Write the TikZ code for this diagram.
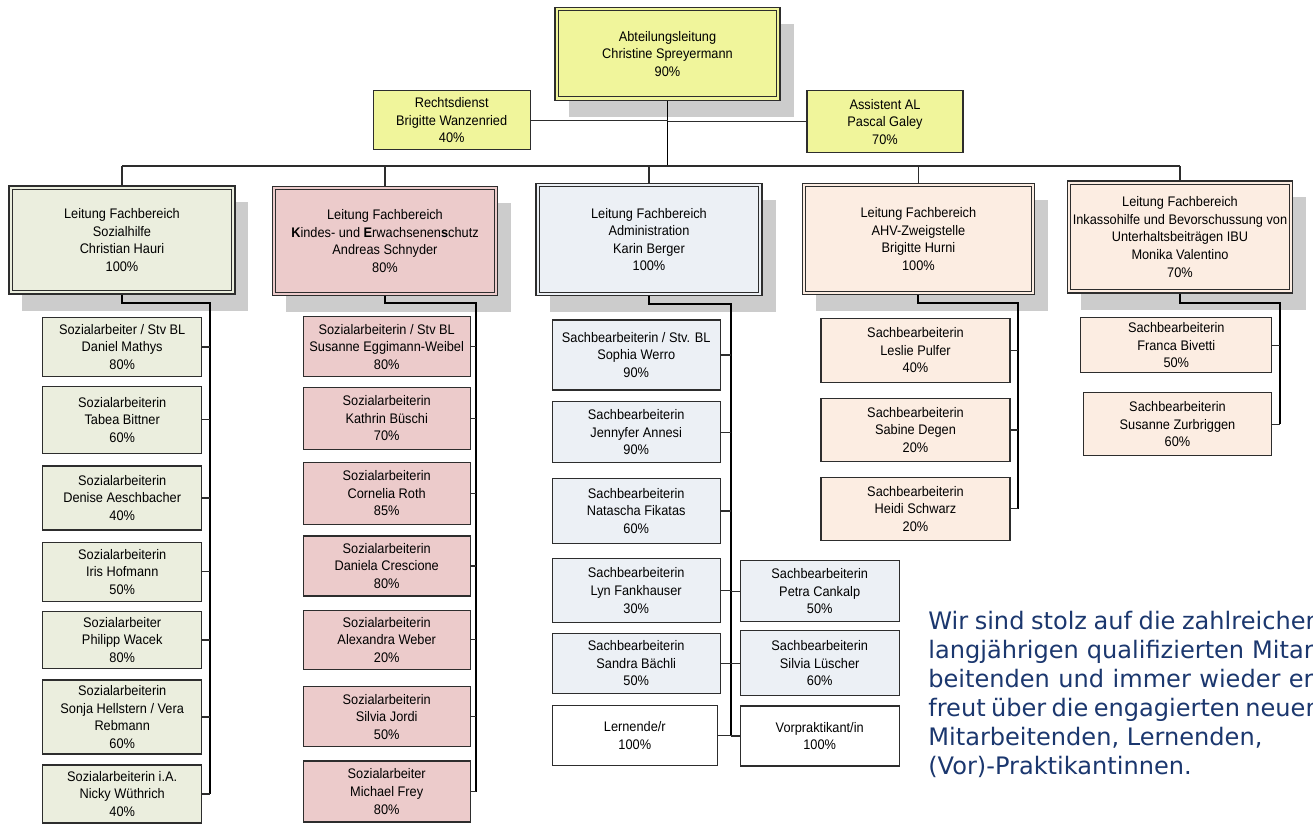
\documentclass[tikz,border=0pt]{standalone}
\usepackage{fontspec}
\setmainfont{Liberation Sans}[FakeStretch=0.92]
\newfontfamily\notefont{DejaVu Sans}
\usetikzlibrary{shadows}
\definecolor{yel}{RGB}{240,245,155}
\definecolor{grn}{RGB}{235,238,222}
\definecolor{pnk}{RGB}{236,203,203}
\definecolor{blu}{RGB}{236,240,245}
\definecolor{pch}{RGB}{252,237,226}
\definecolor{shd}{RGB}{204,204,204}
\definecolor{lin}{RGB}{45,45,45}
\definecolor{notec}{RGB}{27,55,110}
\newcommand{\jline}[1]{\makebox[7.85cm][s]{#1}}
\tikzset{
	org/.style={draw=lin, line width=0.6pt, align=center, inner sep=0pt, font=\fontsize{7.9}{10}\selectfont},
	sz/.style 2 args={minimum width=#1*0.02cm, minimum height=#2*0.02cm},
	lead/.style={org, fill=#1,
		path picture={\draw[lin, line width=0.55pt] ([shift={(1.9pt,-1.9pt)}]path picture bounding box.north west) rectangle ([shift={(-1.9pt,1.9pt)}]path picture bounding box.south east);},
		drop shadow={shadow xshift=0.27cm, shadow yshift=-0.33cm, fill=shd, opacity=1}},
	sub/.style={org, fill=#1},
	trunk/.style={line width=1.1pt, black},
	stub/.style={line width=0.6pt, lin},
	note/.style={align=left, inner sep=0pt, text=notec, font=\notefont\fontsize{13.7}{16.5}\selectfont},
}
\begin{document}
\begin{tikzpicture}[x=0.02cm, y=-0.02cm]
	\useasboundingbox (0,0) rectangle (1313,832);
	\clip (0,0) rectangle (1313,832);

	\node[lead=yel, sz={225}{93}] (al) at (667.5,53.7) {Abteilungsleitung\\Christine Spreyermann\\90\%};
	\node[sub=yel, sz={157}{59}] (rd) at (451.7,120.3) {Rechtsdienst\\Brigitte Wanzenried\\40\%};
	\node[sub=yel, sz={156}{62}] (asst) at (885,121.8) {Assistent AL\\Pascal Galey\\70\%};

	\node[lead=grn, sz={226}{108}] (soz) at (122,240) {Leitung Fachbereich\\Sozialhilfe\\Christian Hauri\\100\%};
	\node[lead=pnk, sz={225}{109}] (kes) at (385,241) {Leitung Fachbereich\\\textbf{K}indes- und \textbf{E}rwachsenen\textbf{s}chutz\\Andreas Schnyder\\80\%};
	\node[lead=blu, sz={226}{112}] (adm) at (649,239.5) {Leitung Fachbereich\\Administration\\Karin Berger\\100\%};
	\node[lead=pch, sz={232}{111}] (ahv) at (918.4,239) {Leitung Fachbereich\\AHV-Zweigstelle\\Brigitte Hurni\\100\%};
	\node[lead=pch, sz={225}{112}] (ibu) at (1180,237) {Leitung Fachbereich\\Inkassohilfe und Bevorschussung von\\Unterhaltsbeiträgen IBU\\Monika Valentino\\70\%};

	\coordinate (bl) at (122,166);
	\coordinate (br) at (1180,166);
	\draw[trunk] (al.south) -- (al.south |- bl);
	\draw[stub] (rd.east) -- (rd.east -| al.south);
	\draw[stub] (asst.west) -- (asst.west -| al.south);
	\draw[line width=0.8pt, lin] (bl) -- (br);
	\foreach \n in {soz,kes,adm,ahv,ibu}
		\draw[stub] (\n.north) -- (\n.north |- bl);

	\node[sub=grn, sz={159}{59}] (s1) at (122.2,347) {Sozialarbeiter / Stv BL\\Daniel Mathys\\80\%};
	\node[sub=grn, sz={159}{67}] (s2) at (122.2,419.7) {Sozialarbeiterin\\Tabea Bittner\\60\%};
	\node[sub=grn, sz={159}{64}] (s3) at (122.2,498) {Sozialarbeiterin\\Denise Aeschbacher\\40\%};
	\node[sub=grn, sz={159}{59}] (s4) at (122.2,571.7) {Sozialarbeiterin\\Iris Hofmann\\50\%};
	\node[sub=grn, sz={159}{57}] (s5) at (122.2,640) {Sozialarbeiter\\Philipp Wacek\\80\%};
	\node[sub=grn, sz={159}{74}] (s6) at (122.2,717) {Sozialarbeiterin\\Sonja Hellstern / Vera\\Rebmann\\60\%};
	\node[sub=grn, sz={159}{58}] (s7) at (122.2,794) {Sozialarbeiterin i.A.\\Nicky Wüthrich\\40\%};

	\node[sub=pnk, sz={167}{60}] (k1) at (386.7,346.7) {Sozialarbeiterin / Stv BL\\Susanne Eggimann-Weibel\\80\%};
	\node[sub=pnk, sz={167}{62}] (k2) at (386.7,418.3) {Sozialarbeiterin\\Kathrin Büschi\\70\%};
	\node[sub=pnk, sz={167}{62}] (k3) at (386.7,493.3) {Sozialarbeiterin\\Cornelia Roth\\85\%};
	\node[sub=pnk, sz={167}{60}] (k4) at (386.7,566) {Sozialarbeiterin\\Daniela Crescione\\80\%};
	\node[sub=pnk, sz={167}{59}] (k5) at (386.7,639.7) {Sozialarbeiterin\\Alexandra Weber\\20\%};
	\node[sub=pnk, sz={167}{60}] (k6) at (386.7,716.7) {Sozialarbeiterin\\Silvia Jordi\\50\%};
	\node[sub=pnk, sz={167}{61}] (k7) at (386.7,791.5) {Sozialarbeiter\\Michael Frey\\80\%};

	\node[sub=blu, sz={168}{70}] (a1) at (636.2,355) {Sachbearbeiterin / Stv. BL\\Sophia Werro\\90\%};
	\node[sub=blu, sz={168}{61}] (a2) at (636.2,432.2) {Sachbearbeiterin\\Jennyfer Annesi\\90\%};
	\node[sub=blu, sz={168}{65}] (a3) at (636.2,511) {Sachbearbeiterin\\Natascha Fikatas\\60\%};
	\node[sub=blu, sz={168}{64}] (a4) at (636.2,590.5) {Sachbearbeiterin\\Lyn Fankhauser\\30\%};
	\node[sub=blu, sz={168}{60}] (a5) at (636.2,663.3) {Sachbearbeiterin\\Sandra Bächli\\50\%};
	\node[sub=white, sz={165}{60}] (a6) at (634.8,735.8) {Lernende/r\\100\%};
	\node[sub=blu, sz={159}{61}] (b1) at (819.7,591.2) {Sachbearbeiterin\\Petra Cankalp\\50\%};
	\node[sub=blu, sz={159}{65}] (b2) at (819.7,663.3) {Sachbearbeiterin\\Silvia Lüscher\\60\%};
	\node[sub=white, sz={159}{60}] (b3) at (819.7,736) {Vorpraktikant/in\\100\%};

	\node[sub=pch, sz={189}{64}] (h1) at (915.5,350.3) {Sachbearbeiterin\\Leslie Pulfer\\40\%};
	\node[sub=pch, sz={189}{63}] (h2) at (915.5,430) {Sachbearbeiterin\\Sabine Degen\\20\%};
	\node[sub=pch, sz={189}{63}] (h3) at (915.5,508.8) {Sachbearbeiterin\\Heidi Schwarz\\20\%};

	\node[sub=pch, sz={191}{55}] (i1) at (1176.3,345.2) {Sachbearbeiterin\\Franca Bivetti\\50\%};
	\node[sub=pch, sz={188}{63}] (i2) at (1177.5,424.2) {Sachbearbeiterin\\Susanne Zurbriggen\\60\%};

	\coordinate (j1) at (210,303.3);
	\coordinate (j2) at (475.7,303.3);
	\coordinate (j3) at (731,304);
	\coordinate (j4) at (1018.3,303.3);
	\coordinate (j5) at (1280,303.3);

	\draw[trunk] (soz.south) |- (j1) -- (j1 |- s7);
	\draw[trunk] (kes.south) |- (j2) -- (j2 |- k7);
	\draw[trunk] (adm.south) |- (j3) -- (j3 |- a6);
	\draw[trunk] (ahv.south) |- (j4) -- (j4 |- h3);
	\draw[trunk] (ibu.south) |- (j5) -- (j5 |- i2);

	\foreach \n in {s1,s2,s3,s4,s5,s6,s7}
		\draw[stub] (\n.east) -- (\n.east -| j1);
	\foreach \n in {k1,k2,k3,k4,k5,k6,k7}
		\draw[stub] (\n.east) -- (\n.east -| j2);
	\foreach \n in {a1,a2,a3,a4,a5,a6}
		\draw[stub] (\n.east) -- (\n.east -| j3);
	\foreach \n in {b1,b2,b3}
		\draw[stub] (\n.west) -- (\n.west -| j3);
	\foreach \n in {h1,h2,h3}
		\draw[stub] (\n.east) -- (\n.east -| j4);
	\foreach \n in {i1,i2}
		\draw[stub] (\n.east) -- (\n.east -| j5);

	\node[note, anchor=north west] (txt) at (928,611) {\jline{Wir sind stolz auf die zahlreichen}\\\jline{langjährigen qualifizierten Mitar-}\\\jline{beitenden und immer wieder er-}\\\jline{freut über die engagierten neuen}\\Mitarbeitenden, Lernenden,\\(Vor)-Praktikantinnen.};
\end{tikzpicture}
\end{document}
